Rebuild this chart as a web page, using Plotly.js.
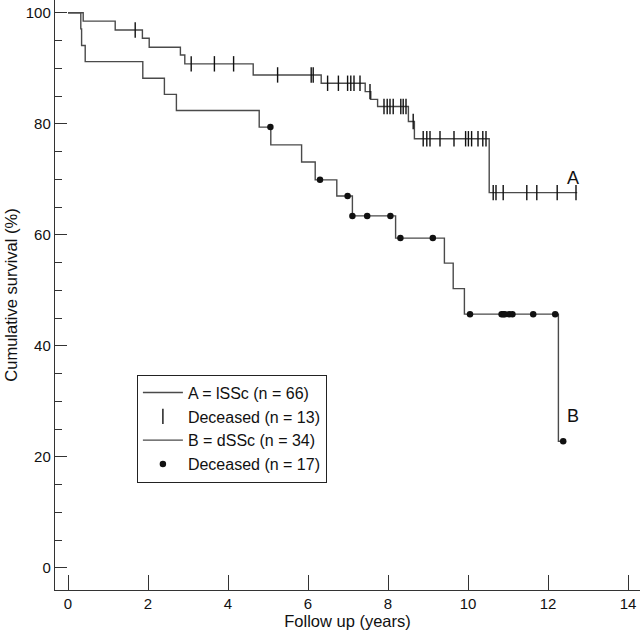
<!DOCTYPE html>
<html>
<head>
<meta charset="utf-8">
<script src="https://cdn.plot.ly/plotly-3.0.1.min.js"></script>
<style>html,body{margin:0;padding:0;background:#fff;}#chart{width:640px;height:633px;}</style>
</head>
<body>
<div id="chart"></div>
<script>
// Curve A (lSSc) step function
var aTimes = [0, 0.38, 1.18, 1.86, 2.03, 2.81, 2.92, 4.63, 6.33, 7.43, 7.57, 7.74, 8.51, 8.66, 10.53, 12.73];
var aSurv  = [100, 98.5, 96.9, 95.4, 93.8, 92.4, 90.8, 88.8, 87.3, 85.8, 84.4, 83.1, 80.4, 77.3, 67.6, 67.6];
// Curve A marks (vertical ticks)
var aMarks = [1.68, 3.08, 3.66, 4.14, 5.24, 6.08, 6.13, 6.49, 6.76, 6.99, 7.07, 7.15, 7.30, 7.55,
              7.90, 7.98, 8.05, 8.13, 8.32, 8.38, 8.45, 8.63, 8.88, 8.97, 9.05, 9.30, 9.65, 9.94,
              10.01, 10.09, 10.25, 10.37, 10.45, 10.63, 10.70, 10.88, 11.47, 11.72, 12.23, 12.70];
// Curve B (dSSc) step function
var bTimes = [0, 0.32, 0.34, 0.43, 1.87, 2.41, 2.71, 4.78, 5.07, 5.84, 6.18, 6.72, 7.11, 8.19, 9.41, 9.63, 9.91, 12.26, 12.38];
var bSurv  = [100, 97.1, 94.1, 91.2, 88.2, 85.3, 82.4, 79.4, 76.2, 73.1, 69.9, 67.0, 63.4, 59.4, 54.9, 50.3, 45.7, 22.8, 22.8];
// Curve B marks (dots)
var bMarks = [5.06, 6.30, 6.99, 7.11, 7.48, 8.06, 8.31, 9.12, 10.05, 10.84, 10.88, 10.92, 11.03, 11.11, 11.63, 12.18, 12.38];

var xTicks = [0, 2, 4, 6, 8, 10, 12, 14];
var yTicks = [0, 20, 40, 60, 80, 100];

function stepAt(times, surv, t) {
  var v = surv[0];
  for (var i = 0; i < times.length; i++) { if (t >= times[i]) v = surv[i]; }
  return v;
}
var aMarkY = aMarks.map(function(t){ return stepAt(aTimes, aSurv, t); });
var bMarkY = bMarks.map(function(t){ return stepAt(bTimes, bSurv, t); });

var lineCol = '#4a4a4a';
var font = 'Liberation Sans, Arial, Helvetica, sans-serif';

var traces = [
  {x: aTimes, y: aSurv, mode: 'lines', line: {shape: 'hv', color: lineCol, width: 1.4}, name: 'A = lSSc (n = 66)'},
  {x: aMarks, y: aMarkY, mode: 'markers', marker: {symbol: 'line-ns', size: 11, color: '#111', line: {color: '#111', width: 1.4}}, name: 'Deceased (n = 13)'},
  {x: bTimes, y: bSurv, mode: 'lines', line: {shape: 'hv', color: lineCol, width: 1.4}, name: 'B = dSSc (n = 34)'},
  {x: bMarks, y: bMarkY, mode: 'markers', marker: {symbol: 'circle', size: 6.5, color: '#111'}, name: 'Deceased (n = 17)'}
];

var layout = {
  width: 640, height: 633,
  margin: {l: 55, r: 0, t: 0, b: 43},
  paper_bgcolor: '#fff', plot_bgcolor: '#fff',
  font: {family: font, color: '#111', size: 15},
  showlegend: true,
  legend: {x: 0.14, y: 0.365, xanchor: 'left', yanchor: 'top', bgcolor: '#fff',
           bordercolor: '#222', borderwidth: 1, font: {family: font, size: 16, color: '#111'},
           tracegroupgap: 0, itemwidth: 40},
  xaxis: {range: [-0.325, 14.3], tickvals: xTicks, ticktext: xTicks.map(String),
          ticks: 'inside', ticklen: 15, tickcolor: '#333', tickwidth: 1,
          showline: true, linecolor: '#333', linewidth: 1.2, showgrid: false, zeroline: false,
          tickfont: {size: 15, family: font},
          title: {text: 'Follow up (years)', font: {size: 16.5, family: font}, standoff: 3}},
  yaxis: {range: [-4, 102.3], tickvals: yTicks, ticktext: yTicks.map(String),
          ticks: 'inside', ticklen: 12, tickcolor: '#333', tickwidth: 1,
          minor: {dtick: 5, tick0: 0, ticks: 'inside', ticklen: 7, tickcolor: '#333', showgrid: false},
          showline: true, linecolor: '#333', linewidth: 1.2, showgrid: false, zeroline: false,
          tickfont: {size: 15, family: font},
          title: {text: 'Cumulative survival (%)', font: {size: 16.5, family: font}, standoff: 4}},
  annotations: [
    {x: 12.63, y: 70.3, xref: 'x', yref: 'y', text: 'A', showarrow: false, font: {size: 18, family: font, color: '#111'}},
    {x: 12.63, y: 27.4, xref: 'x', yref: 'y', text: 'B', showarrow: false, font: {size: 18, family: font, color: '#111'}}
  ]
};

Plotly.newPlot('chart', traces, layout, {displayModeBar: false, staticPlot: true});
</script>
</body>
</html>
